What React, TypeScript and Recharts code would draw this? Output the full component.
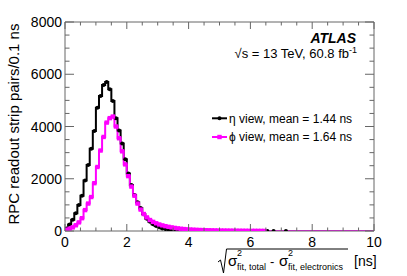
import { ComposedChart, Line, Scatter, XAxis, YAxis } from "recharts";

const BIN_WIDTH = 0.1;

// counts per 0.1 ns bin, 0 .. 10 ns
const etaCounts = [
  100, 250, 430, 680, 1000, 1350, 1930, 2530, 3150, 3830,
  4720, 5170, 5590, 5700, 5430, 4980, 4320, 3850, 3350, 2750,
  2200, 1760, 1380, 1100, 880, 640, 470, 350, 260, 190,
  140, 100, 75, 55, 40, 30, 23, 17, 13, 10,
  8, 7, 6, 5, 4, 4, 3, 3, 2, 2,
  2, 2, 1, 1, 1, 1, 0, 0, 1, 0,
  1, 0, 0, 1, 0, 1, 0, 1, 0, 0,
  0, 1, 0, 0, 0, 0, 0, 0, 0, 0,
  0, 0, 0, 0, 0, 0, 0, 0, 0, 0,
  0, 0, 0, 0, 0, 0, 0, 0, 0, 0,
];

const phiCounts = [
  50, 90, 140, 220, 330, 490, 800, 1050, 1300, 1830,
  2450, 3080, 3600, 4150, 4320, 4380, 4000, 3550, 3050, 2550,
  2100, 1700, 1350, 1050, 820, 650, 520, 420, 350, 295,
  250, 215, 185, 160, 138, 118, 100, 86, 74, 64,
  56, 49, 43, 38, 34, 30, 27, 24, 21, 19,
  17, 15, 14, 12, 11, 10, 9, 8, 7, 6,
  5, 5, 4, 3, 2, 0, 0, 0, 0, 0,
  0, 0, 0, 0, 0, 0, 0, 0, 0, 0,
  0, 0, 0, 0, 0, 0, 0, 0, 0, 0,
  0, 0, 0, 0, 0, 0, 0, 0, 0, 0,
];

const xMajor = [0, 2, 4, 6, 8, 10];
const xTicks = [0, 0.5, 1, 1.5, 2, 2.5, 3, 3.5, 4, 4.5, 5, 5.5, 6, 6.5, 7, 7.5, 8, 8.5, 9, 9.5, 10];
const yMajor = [0, 2000, 4000, 6000, 8000];
const yTicks = [0, 500, 1000, 1500, 2000, 2500, 3000, 3500, 4000, 4500, 5000, 5500, 6000, 6500, 7000, 7500, 8000];

const FONT = "'Liberation Sans', Arial, Helvetica, sans-serif";
const AX = "#666";

const stepData = (counts: number[]) => [
  ...counts.map((c, i) => ({ x: +(i * BIN_WIDTH).toFixed(2), y: c })),
  { x: 10, y: counts[counts.length - 1] },
];
const markerData = (counts: number[]) =>
  counts.map((c, i) => ({ x: +((i + 0.5) * BIN_WIDTH).toFixed(2), y: c })).filter(d => d.y > 0);

const BottomTick = (p: any) => {
  const v = p.payload.value;
  const major = xMajor.includes(v);
  return (
    <g>
      <line x1={p.x} x2={p.x} y1={p.y} y2={p.y - (major ? 7 : 3.5)} stroke={AX} />
      {major && (
        <text x={p.x} y={p.y + 16} textAnchor="middle" fontSize={14} fontFamily={FONT} fill="#000">{v}</text>
      )}
    </g>
  );
};
const TopTick = (p: any) => {
  const major = xMajor.includes(p.payload.value);
  return <line x1={p.x} x2={p.x} y1={p.y} y2={p.y + (major ? 7 : 3.5)} stroke={AX} />;
};
const LeftTick = (p: any) => {
  const v = p.payload.value;
  const major = yMajor.includes(v);
  return (
    <g>
      <line x1={p.x} x2={p.x + (major ? 9 : 4.5)} y1={p.y} y2={p.y} stroke={AX} />
      {major && (
        <text x={p.x - 3} y={p.y + 5} textAnchor="end" fontSize={14} fontFamily={FONT} fill="#000">{v}</text>
      )}
    </g>
  );
};
const RightTick = (p: any) => {
  const major = yMajor.includes(p.payload.value);
  return <line x1={p.x} x2={p.x - (major ? 9 : 4.5)} y1={p.y} y2={p.y} stroke={AX} />;
};

const Dot = (p: any) => <circle cx={p.cx} cy={p.cy} r={2} fill="#000" />;
const Square = (p: any) => <rect x={p.cx - 2.2} y={p.cy - 2.2} width={4.4} height={4.4} fill="#ff00ff" />;

export default function App() {
  return (
    <div style={{ position: "absolute", left: 0, top: 0, width: 407, height: 276, background: "#fff" }}>
      <ComposedChart width={407} height={276} margin={{ top: 21, right: 32, bottom: 44, left: 0 }}>
        <XAxis xAxisId="b" dataKey="x" type="number" domain={[0, 10]} ticks={xTicks} interval={0}
          height={1} tickSize={0} tickMargin={0} tickLine={false} axisLine={{ stroke: AX }} tick={BottomTick} allowDataOverflow />
        <XAxis xAxisId="t" orientation="top" dataKey="x" type="number" domain={[0, 10]} ticks={xTicks} interval={0}
          height={1} tickSize={0} tickMargin={0} tickLine={false} axisLine={{ stroke: AX }} tick={TopTick} allowDataOverflow />
        <YAxis yAxisId="l" type="number" domain={[0, 8000]} ticks={yTicks} interval={0}
          width={65} tickSize={0} tickMargin={0} tickLine={false} axisLine={{ stroke: AX }} tick={LeftTick} allowDataOverflow />
        <YAxis yAxisId="r" orientation="right" type="number" domain={[0, 8000]} ticks={yTicks} interval={0}
          width={1} tickSize={0} tickMargin={0} tickLine={false} axisLine={{ stroke: AX }} tick={RightTick} allowDataOverflow />
        <Line xAxisId="b" yAxisId="l" data={stepData(etaCounts)} dataKey="y" type="stepAfter"
          stroke="#000" strokeWidth={2} dot={false} isAnimationActive={false} />
        <Scatter xAxisId="b" yAxisId="l" data={markerData(etaCounts)} dataKey="y" shape={Dot} isAnimationActive={false} />
        <Line xAxisId="b" yAxisId="l" data={stepData(phiCounts)} dataKey="y" type="stepAfter"
          stroke="#ff00ff" strokeWidth={2} dot={false} isAnimationActive={false} />
        <Scatter xAxisId="b" yAxisId="l" data={markerData(phiCounts)} dataKey="y" shape={Square} isAnimationActive={false} />
      </ComposedChart>
      <svg width={407} height={276} style={{ position: "absolute", left: 0, top: 0, pointerEvents: "none" }}>
        <text x={19} y={124} transform="rotate(-90 19 124)" textAnchor="middle" fontSize={15} fontFamily={FONT} fill="#000">
          RPC readout strip pairs/0.1 ns
        </text>
        <text x={356} y={43} textAnchor="end" fontSize={14} fontWeight="bold" fontStyle="italic" fontFamily={FONT} fill="#000">ATLAS</text>
        <text x={357} y={58} textAnchor="end" fontSize={13} fontFamily={FONT} fill="#000">
          √s = 13 TeV, 60.8 fb<tspan dy={-5} fontSize={9}>-1</tspan>
        </text>

        <line x1={212} x2={227} y1={118.3} y2={118.3} stroke="#000" strokeWidth={2} />
        <circle cx={219.5} cy={118.3} r={2} fill="#000" />
        <text x={229} y={122.5} fontSize={12} fontFamily={FONT} fill="#000">η view, mean = 1.44 ns</text>
        <line x1={212} x2={227} y1={137} y2={137} stroke="#ff00ff" strokeWidth={2} />
        <rect x={217.3} y={134.8} width={4.4} height={4.4} fill="#ff00ff" />
        <text x={229} y={141.2} fontSize={12} fontFamily={FONT} fill="#000">ϕ view, mean = 1.64 ns</text>

        <path d="M218 262 L220.5 260 L223.5 273 L226.5 249 L348 249" stroke="#000" fill="none" strokeWidth={1} />
        <g fontFamily={FONT} fill="#000">
          <text x={228} y={266} fontSize={15}>σ</text>
          <text x={237} y={256} fontSize={9}>2</text>
          <text x={237} y={270} fontSize={9}>fit, total</text>
          <text x={270} y={266} fontSize={13}>-</text>
          <text x={279} y={266} fontSize={15}>σ</text>
          <text x={288} y={256} fontSize={9}>2</text>
          <text x={288} y={270} fontSize={9}>fit, electronics</text>
          <text x={354} y={266} fontSize={14}>[ns]</text>
        </g>
      </svg>
    </div>
  );
}
